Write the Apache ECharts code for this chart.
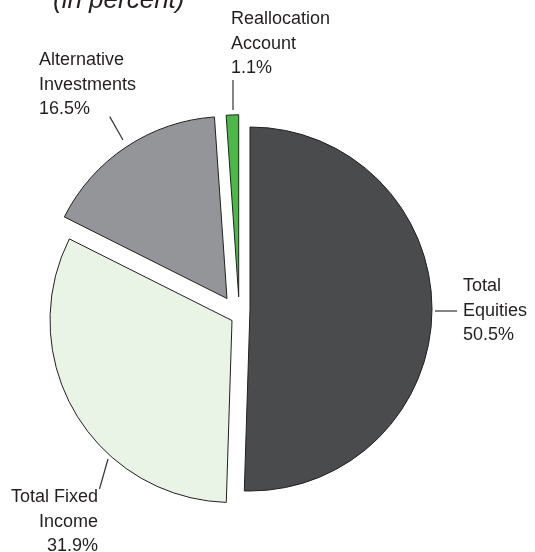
<!DOCTYPE html>
<html>
<head>
<meta charset="utf-8">
<script src="https://cdn.jsdelivr.net/npm/echarts@6/dist/echarts.min.js"></script>
<style>
  html, body { margin: 0; padding: 0; background: #ffffff; }
  #chart { width: 535px; height: 552px; }
</style>
</head>
<body>
<div id="chart"></div>
<script>
// Asset allocation shares (percent), clockwise from 12 o'clock
const categories = ['Total\nEquities', 'Total Fixed\nIncome', 'Alternative\nInvestments', 'Reallocation\nAccount'];
const shares = [50.5, 31.9, 16.5, 1.1];
const sliceColors = ['#4a4b4d', '#e9f3e6', '#949599', '#4cb848'];

const FONT = '"Liberation Sans", Arial, Helvetica, sans-serif';
const INK = '#231f20';

// Pie geometry and how far each wedge is pulled out from the common centre
const CENTER = [238, 310];
const RADIUS = 182;
const pullOut = [[12, -1], [-6, 10.5], [-11, -11.5], [0.7, -13.2]];

// Where each label sits and how its leader line runs
const labelPlacement = [
  { x: 463, y: 311, align: 'left',  line: [[435, 311], [457, 311]] },
  { x: 98,  y: 522, align: 'right', line: [[108, 459], [99.5, 489]] },
  { x: 39,  y: 85,  align: 'left',  line: [[123, 140], [109.7, 116.6]] },
  { x: 231, y: 44,  align: 'left',  line: [[233, 110], [233, 80]] }
];

const chart = echarts.init(document.getElementById('chart'), null, { renderer: 'canvas' });

// One pie per wedge: every pie lays out all shares, but only its own wedge is painted
const wedgeSeries = categories.map((_, k) => ({
  type: 'pie',
  center: [CENTER[0] + pullOut[k][0], CENTER[1] + pullOut[k][1]],
  radius: RADIUS,
  startAngle: 90,
  clockwise: true,
  silent: true,
  z: 2,
  label: { show: false },
  labelLine: { show: false },
  emphasis: { disabled: true },
  data: categories.map((name, i) => ({
    name: name,
    value: shares[i],
    itemStyle: i === k
      ? { color: sliceColors[i], borderColor: INK, borderWidth: 1 }
      : { color: 'rgba(0,0,0,0)', borderWidth: 0 }
  }))
}));

const labelGraphics = [];
categories.forEach((name, i) => {
  const p = labelPlacement[i];
  labelGraphics.push({
    type: 'text',
    z: 10,
    style: {
      text: name + '\n' + shares[i] + '%',
      x: p.x,
      y: p.y,
      align: p.align,
      verticalAlign: 'middle',
      font: '18px ' + FONT,
      lineHeight: 24.5,
      fill: INK
    }
  });
  labelGraphics.push({
    type: 'polyline',
    z: 10,
    shape: { points: p.line },
    style: { stroke: '#333333', lineWidth: 1.2, fill: null }
  });
});

chart.setOption({
  animation: false,
  title: {
    text: '(in percent)',
    left: 53,
    top: -12,
    padding: 0,
    textStyle: { fontFamily: FONT, fontSize: 26, fontStyle: 'italic', fontWeight: 'normal', color: INK }
  },
  graphic: { elements: labelGraphics },
  series: wedgeSeries
});
</script>
</body>
</html>
